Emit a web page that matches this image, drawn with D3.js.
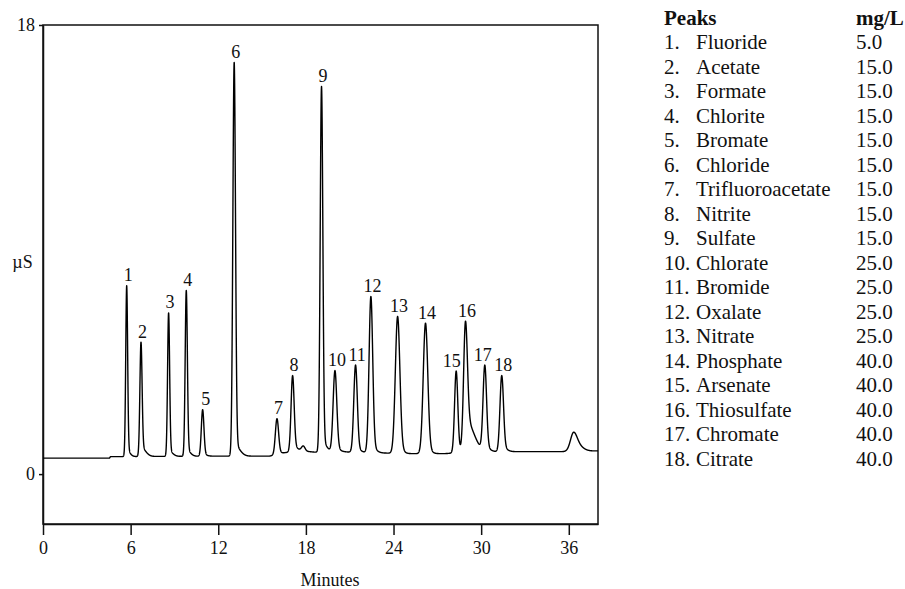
<!DOCTYPE html>
<html>
<head>
<meta charset="utf-8">
<script src="https://cdn.jsdelivr.net/npm/d3@7"></script>
<style>
  html, body { margin: 0; padding: 0; background: #fff; }
  svg { display: block; }
  text { font-family: "Liberation Serif", "Times New Roman", serif; fill: #111; }
</style>
</head>
<body>
<svg id="chart" width="905" height="589"></svg>
<script>
// ---------------- data ----------------
const peakLabels   = ["1","2","3","4","5","6","7","8","9","10","11","12","13","14","15","16","17","18"];
const peakTimes    = [5.73, 6.71, 8.60, 9.81, 10.93, 13.09, 16.02, 17.09, 19.07, 19.99, 21.40, 22.45, 24.28, 26.19, 28.29, 28.93, 30.25, 31.41];
const peakApex     = [7.55, 5.29, 6.46, 7.36, 2.58, 16.5, 2.22, 3.95, 15.54, 4.15, 4.37, 7.12, 6.32, 6.05, 4.13, 6.13, 4.37, 3.95];
const peakSigma    = [0.065, 0.075, 0.07, 0.075, 0.09, 0.09, 0.11, 0.105, 0.09, 0.125, 0.12, 0.125, 0.155, 0.155, 0.11, 0.13, 0.12, 0.12];
const peakTailK    = [0.04, 0.08, 0.04, 0.04, 0.04, 0.03, 0.04, 0.05, 0.03, 0.04, 0.04, 0.04, 0.04, 0.04, 0.04, 0.25, 0.05, 0.06];
const peakTailW    = [0.2, 0.3, 0.25, 0.25, 0.25, 0.35, 0.3, 0.3, 0.3, 0.3, 0.3, 0.3, 0.3, 0.3, 0.3, 0.53, 0.3, 0.3];

// unlabeled features
const extraTimes   = [17.82, 36.34];
const extraApex    = [1.13, 1.68];
const extraSigma   = [0.12, 0.22];
const extraTailK   = [0.0, 0.5];
const extraTailW   = [0.3, 0.45];

// baseline (µS) knots
const baseTimes    = [0, 4.55, 4.62, 12, 15.5, 17.4, 18.6, 20, 23, 25, 27.5, 29.5, 32.5, 35.5, 38];
const baseValues   = [0.64, 0.64, 0.70, 0.72, 0.72, 0.95, 0.88, 0.9, 0.85, 0.82, 0.82, 0.9, 0.9, 0.9, 0.93];

// axes
const xTicks = [0, 6, 12, 18, 24, 30, 36];
const yTicks = [0, 18];

// legend
const legendNames  = ["Fluoride","Acetate","Formate","Chlorite","Bromate","Chloride","Trifluoroacetate","Nitrite","Sulfate","Chlorate","Bromide","Oxalate","Nitrate","Phosphate","Arsenate","Thiosulfate","Chromate","Citrate"];
const legendConc   = ["5.0","15.0","15.0","15.0","15.0","15.0","15.0","15.0","15.0","25.0","25.0","25.0","25.0","40.0","40.0","40.0","40.0","40.0"];

// ---------------- drawing ----------------
const svg = d3.select("#chart");
const x = d3.scaleLinear().domain([0, 38]).range([43, 598]);
const y = d3.scaleLinear().domain([-2, 18]).range([524, 25]);

const baseline = d3.scaleLinear().domain(baseTimes).range(baseValues).clamp(true);

function shape(d, s, k, w) {
  const g = Math.exp(-d * d / (2 * s * s));
  if (d <= 0) return g;
  return (1 - k) * g + k * Math.exp(-d * d / (2 * w * w));
}

const peaks = [];
peakTimes.forEach((t, i) => peaks.push({t, apex: peakApex[i], s: peakSigma[i], k: peakTailK[i], w: peakTailW[i], label: peakLabels[i]}));
extraTimes.forEach((t, i) => peaks.push({t, apex: extraApex[i], s: extraSigma[i], k: extraTailK[i], w: extraTailW[i], label: null}));
peaks.forEach(p => p.amp = p.apex - baseline(p.t));

function signal(t) {
  let v = baseline(t);
  for (const p of peaks) {
    const d = t - p.t;
    if (Math.abs(d) < 4) v += p.amp * shape(d, p.s, p.k, p.w);
  }
  return v;
}
// adjust amplitudes so that apex totals match the read values
for (let it = 0; it < 30; it++) {
  peaks.forEach(p => { p.amp += p.apex - signal(p.t); });
}

const samples = d3.range(0, 38.0001, 0.004).map(t => [t, signal(t)]);

// frame
svg.append("rect")
  .attr("x", x(0)).attr("y", y(18))
  .attr("width", x(38) - x(0)).attr("height", y(-2) - y(18))
  .attr("fill", "none").attr("stroke", "#111").attr("stroke-width", 1.5);

// x axis
const gx = svg.append("g").attr("transform", `translate(0,${y(-2)})`)
  .call(d3.axisBottom(x).tickValues(xTicks).tickSize(11).tickSizeOuter(0).tickPadding(6));
gx.select(".domain").attr("stroke", "#111").attr("stroke-width", 1.5);
gx.selectAll(".tick line").attr("stroke", "#111").attr("stroke-width", 1.5);
gx.selectAll(".tick text").attr("font-size", 18).attr("font-family", "Liberation Serif").attr("fill", "#111");

// y axis
const gy = svg.append("g").attr("transform", `translate(${x(0)},0)`)
  .call(d3.axisLeft(y).tickValues(yTicks).tickSize(4).tickSizeOuter(0).tickPadding(4));
gy.select(".domain").attr("stroke", "#111").attr("stroke-width", 1.5);
gy.selectAll(".tick line").attr("stroke", "#111").attr("stroke-width", 1.5);
gy.selectAll(".tick text").attr("font-size", 18).attr("font-family", "Liberation Serif").attr("fill", "#111");

// axis titles
svg.append("text").attr("x", 22.5).attr("y", 268).attr("text-anchor", "middle")
  .attr("font-size", 18).text("µS");
svg.append("text").attr("x", 330).attr("y", 586).attr("text-anchor", "middle")
  .attr("font-size", 18).text("Minutes");

// trace
svg.append("path").datum(samples)
  .attr("fill", "none").attr("stroke", "#000").attr("stroke-width", 1.4)
  .attr("stroke-linejoin", "round")
  .attr("d", d3.line().x(d => x(d[0])).y(d => y(d[1])));

// peak labels
const nudge = {"5": 1.5, "10": 0.5, "15": -6, "17": -3.5};
svg.append("g").selectAll("text")
  .data(peaks.filter(p => p.label))
  .join("text")
  .attr("x", p => x(p.t) + 1.5 + (nudge[p.label] || 0))
  .attr("y", p => y(p.apex) - 4.5)
  .attr("text-anchor", "middle")
  .attr("font-size", 18)
  .text(p => p.label);

// legend
const lg = svg.append("g").attr("font-size", 21);
lg.append("text").attr("x", 664).attr("y", 25).attr("font-weight", "bold").text("Peaks");
lg.append("text").attr("x", 856).attr("y", 25).attr("font-weight", "bold").text("mg/L");
legendNames.forEach((n, i) => {
  const yy = 49.3 + i * 24.5;
  lg.append("text").attr("x", 664).attr("y", yy).text((i + 1) + ".");
  lg.append("text").attr("x", 696).attr("y", yy).text(n);
  lg.append("text").attr("x", 856).attr("y", yy).text(legendConc[i]);
});
</script>
</body>
</html>
